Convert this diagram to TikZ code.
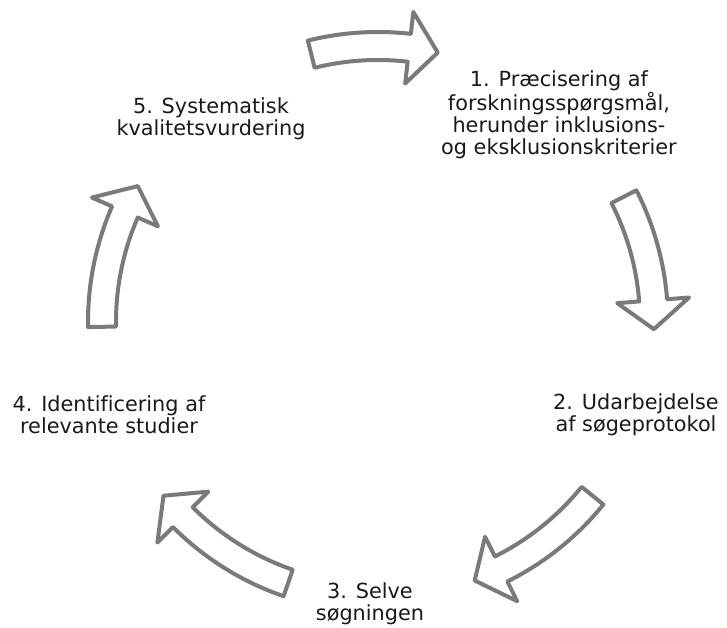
\documentclass[tikz,border=0pt]{standalone}
\usepackage{fontspec}
\setmainfont[Ligatures=NoCommon]{DejaVu Sans}
\definecolor{ringgray}{RGB}{120,122,124}

\def\ringr{276}
\def\shaftw{14}
\def\headw{36}
\def\headang{6}

% one bent block arrow on the ring, running clockwise from #1 to the tip at #2
\newcommand{\ringarrow}[2]{%
	\pgfmathsetmacro{\hb}{#2+\headang}
	\pgfmathsetmacro{\ro}{\ringr+\shaftw}
	\pgfmathsetmacro{\ri}{\ringr-\shaftw}
	\pgfmathsetmacro{\hro}{\ringr+\headw}
	\pgfmathsetmacro{\hri}{\ringr-\headw}
	\draw[ring arrow] (#1:\ro) arc[start angle=#1, end angle=\hb, radius=\ro]
		-- (\hb:\hro) -- (#2:\ringr) -- (\hb:\hri) -- (\hb:\ri)
		arc[start angle=\hb, end angle=#1, radius=\ri] -- cycle;}

\begin{document}
\begin{tikzpicture}[x=1pt,y=1pt]
		\tikzstyle{ring arrow}=[draw=ringgray,fill=white,line width=4pt,line join=round]
		\tikzstyle{step text}=[align=center,inner sep=0pt,font=\fontsize{20.8}{22.2}\selectfont,text=black!90]
		\useasboundingbox (0,0) rectangle (727,628);

			% the five arrows round the ring
		\begin{scope}[shift={(378,306)}]
		\ringarrow{104}{77.5}
		\ringarrow{27}{-1.5}
		\ringarrow{-39}{-69.5}
		\ringarrow{-109}{-141}
		\ringarrow{181}{150.5}
		\end{scope}

			% the five steps
		\node[step text] (S-1) at (559,513) {1. Præcisering af\\forskningsspørgsmål,\\herunder inklusions-\\og eksklusionskriterier};
		\node[step text] (S-2) at (636,213.5) {2. Udarbejdelse\\af søgeprotokol};
		\node[step text] (S-3) at (370,24) {3. Selve\\søgningen};
		\node[step text] (S-4) at (109,213) {4. Identificering af\\relevante studier};
		\node[step text] (S-5) at (211,509) {5. Systematisk\\kvalitetsvurdering};
		\end{tikzpicture}
\end{document}
